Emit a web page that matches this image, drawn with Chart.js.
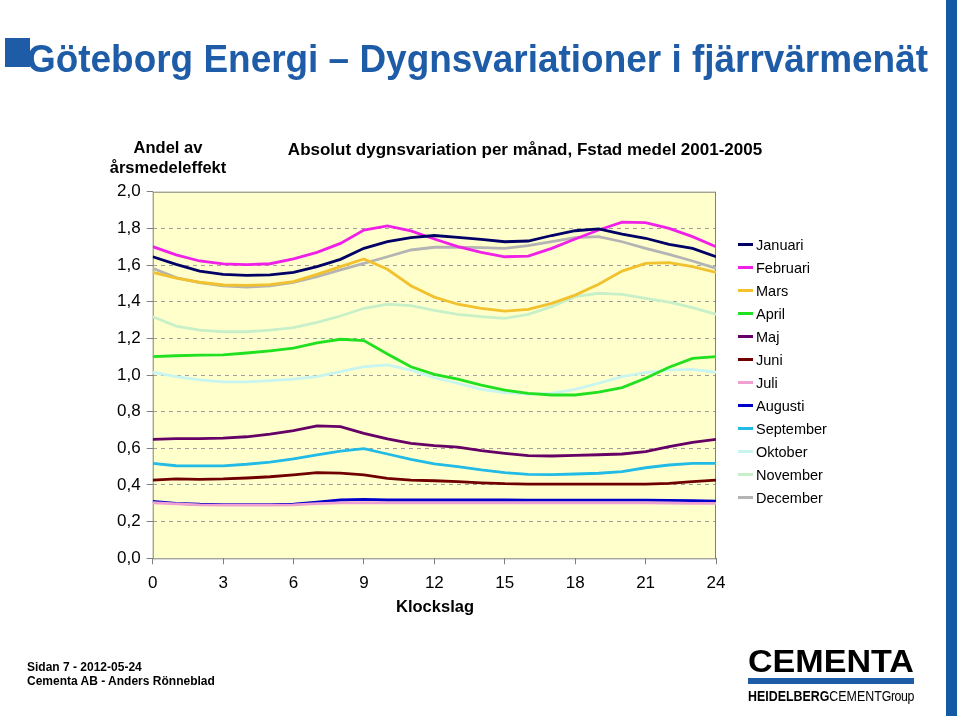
<!DOCTYPE html>
<html>
<head>
<meta charset="utf-8">
<script src="https://cdn.jsdelivr.net/npm/chart.js@4"></script>
<style>
  body { margin: 0; width: 960px; height: 716px; background: #fff; position: relative; overflow: hidden; font-family: "Liberation Sans", Arial, sans-serif; }
  #chart { position: absolute; left: 0; top: 0; }
  .abs { position: absolute; white-space: nowrap; }
  #square { left: 5px; top: 38px; width: 25px; height: 29px; background: #1e5ca8; }
  #title { left: 27px; top: 37px; font-weight: bold; font-size: 39px; color: #1e5ca8; transform-origin: left top; }
  #sidebar { left: 946px; top: 0; width: 11px; height: 716px; background: #1459a4; }
  #ytitle { left: 168px; top: 137px; transform: translateX(-50%); text-align: center; font-weight: bold; font-size: 16.5px; line-height: 20px; }
  #ctitle { left: 525px; top: 140px; transform: translateX(-50%); font-weight: bold; font-size: 17px; }
  #xtitle { left: 435px; top: 597px; transform: translateX(-50%); font-weight: bold; font-size: 16.5px; }
  #legend { left: 738px; top: 233px; font-size: 14.5px; }
  .item { height: 23px; display: flex; align-items: center; }
  .swatch { width: 15px; height: 3px; margin-right: 3px; }
  #footer { left: 27px; top: 660px; font-weight: bold; font-size: 12px; line-height: 14px; }
  #logo { left: 748px; top: 648px; width: 166px; }
  #cementa { font-weight: bold; font-size: 31px; line-height: 27px; transform-origin: left top; display: inline-block; }
  #stripe { height: 6px; background: #1e5ca8; margin-top: 2px; }
  #group { font-size: 14px; margin-top: 4px; transform-origin: left top; display: inline-block; }
</style>
</head>
<body>
<canvas id="chart" width="960" height="716"></canvas>
<div class="abs" id="square"></div>
<div class="abs" id="title">Göteborg Energi – Dygnsvariationer i fjärrvärmenät</div>
<div class="abs" id="sidebar"></div>
<div class="abs" id="ytitle">Andel av<br>årsmedeleffekt</div>
<div class="abs" id="ctitle">Absolut dygnsvariation per månad, Fstad medel 2001-2005</div>
<div class="abs" id="xtitle">Klockslag</div>
<div class="abs" id="legend"></div>
<div class="abs" id="footer">Sidan 7 - 2012-05-24<br>Cementa AB - Anders Rönneblad</div>
<div class="abs" id="logo">
  <div><span id="cementa">CEMENTA</span></div>
  <div id="stripe"></div>
  <div><span id="group"><b>HEIDELBERG</b>CEMENT<span style="letter-spacing:-0.5px">Group</span></span></div>
</div>
<script>
// timmar 0..24
const hours = [0,1,2,3,4,5,6,7,8,9,10,11,12,13,14,15,16,17,18,19,20,21,22,23,24];
const months = ['Januari','Februari','Mars','April','Maj','Juni','Juli','Augusti','September','Oktober','November','December'];

const januari   = [1.645,1.604,1.567,1.549,1.544,1.546,1.560,1.591,1.631,1.691,1.727,1.749,1.761,1.751,1.740,1.727,1.731,1.761,1.787,1.797,1.769,1.746,1.713,1.691,1.645];
const februari  = [1.700,1.655,1.622,1.606,1.602,1.607,1.633,1.669,1.718,1.791,1.813,1.786,1.742,1.700,1.669,1.645,1.649,1.691,1.742,1.791,1.834,1.831,1.800,1.755,1.700];
const mars      = [1.560,1.528,1.506,1.491,1.489,1.493,1.509,1.549,1.591,1.633,1.577,1.487,1.425,1.386,1.364,1.349,1.358,1.391,1.436,1.495,1.567,1.609,1.613,1.591,1.560];
const april     = [1.100,1.105,1.108,1.110,1.120,1.132,1.146,1.175,1.195,1.188,1.115,1.045,1.003,0.977,0.945,0.918,0.900,0.891,0.891,0.906,0.931,0.982,1.042,1.091,1.100];
const maj       = [0.649,0.653,0.653,0.656,0.663,0.678,0.696,0.722,0.718,0.682,0.651,0.627,0.615,0.606,0.587,0.573,0.560,0.558,0.562,0.565,0.569,0.582,0.609,0.633,0.649];
const juni      = [0.427,0.433,0.431,0.433,0.438,0.445,0.455,0.467,0.465,0.455,0.436,0.427,0.423,0.418,0.412,0.407,0.405,0.405,0.405,0.405,0.405,0.405,0.409,0.418,0.427];
const juli      = [0.303,0.297,0.292,0.290,0.290,0.290,0.292,0.298,0.302,0.303,0.302,0.302,0.302,0.302,0.302,0.302,0.302,0.302,0.302,0.302,0.302,0.302,0.301,0.300,0.300];
const augusti   = [0.310,0.300,0.295,0.293,0.293,0.293,0.296,0.307,0.318,0.322,0.318,0.318,0.318,0.318,0.318,0.318,0.317,0.317,0.317,0.317,0.317,0.317,0.316,0.315,0.312];
const september = [0.518,0.505,0.504,0.504,0.513,0.525,0.542,0.564,0.585,0.598,0.569,0.540,0.515,0.500,0.482,0.467,0.458,0.456,0.460,0.464,0.473,0.494,0.509,0.518,0.518];
const oktober   = [1.015,0.991,0.973,0.963,0.962,0.969,0.977,0.991,1.018,1.045,1.055,1.027,0.985,0.955,0.922,0.904,0.896,0.900,0.922,0.955,0.991,1.013,1.027,1.031,1.015];
const november  = [1.318,1.267,1.245,1.236,1.236,1.245,1.258,1.287,1.322,1.364,1.386,1.378,1.352,1.331,1.318,1.309,1.331,1.373,1.427,1.446,1.440,1.418,1.397,1.367,1.331];
const december  = [1.582,1.531,1.504,1.486,1.480,1.486,1.506,1.536,1.573,1.609,1.645,1.682,1.697,1.698,1.695,1.691,1.706,1.727,1.749,1.755,1.727,1.691,1.658,1.622,1.582];

const series = [januari, februari, mars, april, maj, juni, juli, augusti, september, oktober, november, december];
const colors = ['#000066','#f020e8','#f2c12e','#20e020','#660066','#700000','#f0a0d0','#0000cc','#22bbe6','#c8f5f0','#c8f0c8','#b4b4b4'];

const Y_W = 60, X_H = 60;

// smalare text: skala i x-led till given bredd
function fitWidth(id, w) {
  const el = document.getElementById(id);
  const cur = el.getBoundingClientRect().width;
  el.style.transform = 'scaleX(' + (w / cur) + ')';
}
fitWidth('title', 901);
fitWidth('cementa', 166);
fitWidth('group', 166);

// gul bakgrund + ram runt plotytan
const plotFrame = {
  id: 'plotFrame',
  beforeDraw(chart) {
    const { ctx, chartArea: a } = chart;
    ctx.save();
    ctx.fillStyle = '#ffffcc';
    ctx.fillRect(a.left, a.top, a.right - a.left, a.bottom - a.top);
    ctx.restore();
  },
  beforeDatasetsDraw(chart) {
    const { ctx, chartArea: a } = chart;
    ctx.save();
    ctx.strokeStyle = '#808080';
    ctx.lineWidth = 1;
    ctx.strokeRect(a.left + 0.5, a.top + 0.5, a.right - a.left - 1, a.bottom - a.top);
    ctx.restore();
  }
};

const chart = new Chart(document.getElementById('chart'), {
  type: 'line',
  data: {
    labels: hours,
    datasets: series.map((d, i) => ({
      label: months[i],
      data: d,
      borderColor: colors[i],
      backgroundColor: colors[i],
      borderWidth: 2.8,
      pointRadius: 0,
      tension: 0,
      fill: false
    }))
  },
  options: {
    responsive: false,
    animation: false,
    events: [],
    layout: {
      padding: { left: 152.7 - Y_W, top: 191.7, right: 960 - 716, bottom: 716 - 558.3 - X_H }
    },
    plugins: { legend: { display: false }, tooltip: { enabled: false } },
    scales: {
      x: {
        type: 'linear',
        min: 0,
        max: 24,
        afterFit: s => { s.height = X_H; },
        ticks: { stepSize: 3, color: '#000', font: { size: 17, family: 'Liberation Sans' }, padding: 9, maxRotation: 0 },
        grid: { drawOnChartArea: false, drawTicks: true, tickLength: 6, tickColor: '#808080' },
        border: { display: false }
      },
      y: {
        min: 0,
        max: 2,
        afterFit: s => { s.width = Y_W; },
        ticks: {
          stepSize: 0.2,
          color: '#000',
          font: { size: 17, family: 'Liberation Sans' },
          padding: 6,
          callback: v => v.toFixed(1).replace('.', ',')
        },
        grid: {
          color: c => (c.tick && (Math.abs(c.tick.value) < 1e-6 || Math.abs(c.tick.value - 2) < 1e-6)) ? 'rgba(0,0,0,0)' : '#a0a0a0',
          tickColor: '#808080',
          tickLength: 6,
          lineWidth: 1
        },
        border: { display: false, dash: [4, 4] }
      }
    }
  },
  plugins: [plotFrame]
});

// legend byggd från dataseten
const legend = document.getElementById('legend');
chart.data.datasets.forEach(ds => {
  const row = document.createElement('div');
  row.className = 'item';
  row.innerHTML = '<span class="swatch" style="background:' + ds.borderColor + '"></span><span>' + ds.label + '</span>';
  legend.appendChild(row);
});
</script>
</body>
</html>
